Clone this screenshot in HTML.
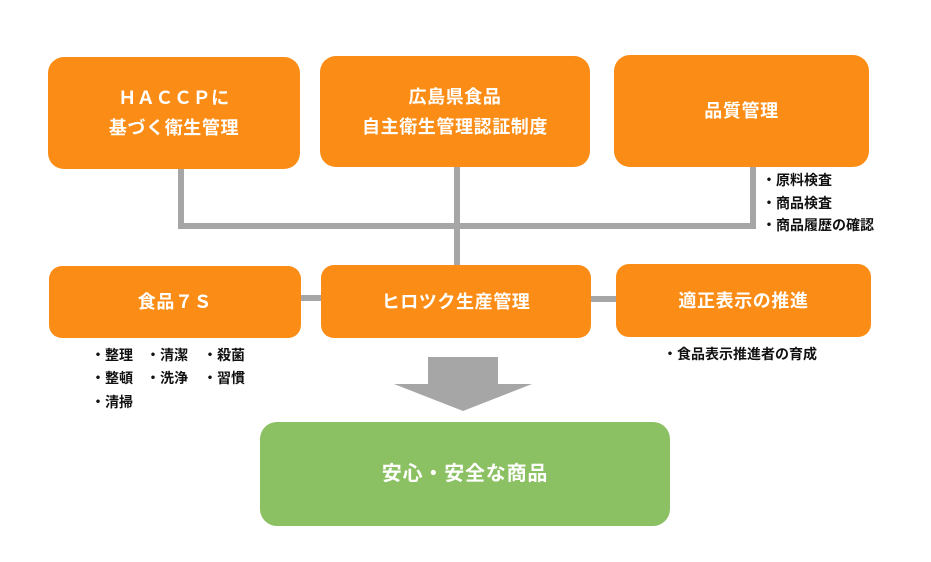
<!DOCTYPE html>
<html><head><meta charset="utf-8"><style>
html,body{margin:0;padding:0;background:#fff;}
body{width:931px;height:562px;position:relative;overflow:hidden;font-family:"Liberation Sans","Noto Sans CJK JP",sans-serif;}
.box{position:absolute;background:#FB8C15;color:#fff;font-weight:bold;font-size:18px;display:flex;align-items:center;justify-content:center;text-align:center;line-height:30px;letter-spacing:0.6px;}
.ln{position:absolute;background:#A6A6A6;}
.b{position:absolute;font-size:14px;font-weight:bold;color:#111;line-height:16px;white-space:nowrap;}
</style></head><body>
<!-- connectors -->
<div class="ln" style="left:178px;top:165px;width:6px;height:64px;"></div>
<div class="ln" style="left:454px;top:165px;width:6px;height:102px;"></div>
<div class="ln" style="left:750px;top:165px;width:6px;height:64px;"></div>
<div class="ln" style="left:178px;top:223px;width:578px;height:6px;"></div>
<div class="ln" style="left:298px;top:295px;width:26px;height:6px;"></div>
<div class="ln" style="left:588px;top:296px;width:30px;height:6px;"></div>

<!-- top row -->
<div class="box" style="left:48px;top:57px;width:252px;height:112px;border-radius:16px;">ＨＡＣＣＰに<br>基づく衛生管理</div>
<div class="box" style="left:320px;top:56px;width:270px;height:111px;border-radius:16px;">広島県食品<br>自主衛生管理認証制度</div>
<div class="box" style="left:614px;top:55px;width:255px;height:112px;border-radius:16px;">品質管理</div>

<div class="b" style="left:762px;top:172px;">・原料検査</div>
<div class="b" style="left:762px;top:195px;">・商品検査</div>
<div class="b" style="left:762px;top:217px;">・商品履歴の確認</div>

<!-- middle row -->
<div class="box" style="left:49px;top:266px;width:252px;height:72px;border-radius:13px;">食品７Ｓ</div>
<div class="box" style="left:321px;top:265px;width:270px;height:73px;border-radius:13px;">ヒロツク生産管理</div>
<div class="box" style="left:616px;top:264px;width:255px;height:73px;border-radius:13px;">適正表示の推進</div>

<div class="b" style="left:91px;top:347px;">・整理</div>
<div class="b" style="left:146px;top:347px;">・清潔</div>
<div class="b" style="left:203px;top:347px;">・殺菌</div>
<div class="b" style="left:91px;top:370px;">・整頓</div>
<div class="b" style="left:146px;top:370px;">・洗浄</div>
<div class="b" style="left:203px;top:370px;">・習慣</div>
<div class="b" style="left:91px;top:394px;">・清掃</div>
<div class="b" style="left:663px;top:346px;">・食品表示推進者の育成</div>

<!-- arrow -->
<svg style="position:absolute;left:0;top:0;" width="931" height="562">
<polygon points="428,357 498,357 498,384 532,384 463,411 394,384 428,384" fill="#A6A6A6"/>
</svg>

<!-- bottom -->
<div class="box" style="left:260px;top:422px;width:410px;height:104px;border-radius:17px;background:#8BC063;font-size:20px;letter-spacing:0.8px;">安心・安全な商品</div>
</body></html>
